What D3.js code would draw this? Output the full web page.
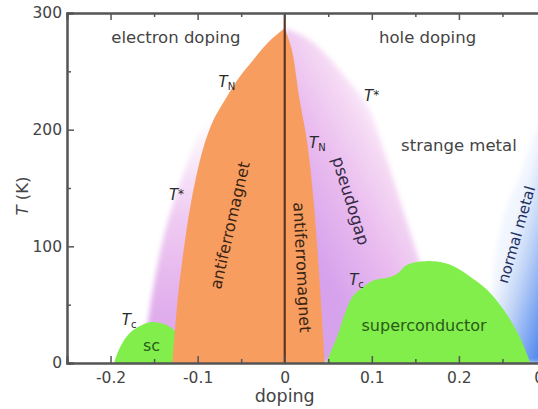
<!DOCTYPE html>
<html>
<head>
<meta charset="utf-8">
<script src="https://cdn.jsdelivr.net/npm/d3@7"></script>
<style>
  body { margin: 0; background: #fff; }
  svg { display: block; font-family: "DejaVu Sans", sans-serif; }
</style>
</head>
<body>
<script>
// phase boundaries, [doping, T in K]
var tnElectron = [[0, 287], [-0.016, 277], [-0.036, 260], [-0.054, 243], [-0.069, 225], [-0.082, 208], [-0.094, 183], [-0.107, 140], [-0.116, 97], [-0.123, 54], [-0.129, 0]];
var tnHole = [[0, 287], [0.008, 269], [0.017, 226], [0.026, 188], [0.033, 140], [0.04, 71], [0.046, 0]];
var tStarElectron = [[-0.09, 210], [-0.105, 185], [-0.12, 155], [-0.133, 125], [-0.143, 95], [-0.152, 60], [-0.158, 30]];
var tStarHole = [[0, 287], [0.022, 280], [0.044, 267], [0.07, 245], [0.094, 222], [0.115, 180], [0.132, 140], [0.145, 110], [0.158, 80]];
var tcElectron = [[-0.196, 0], [-0.19, 12], [-0.18, 24], [-0.168, 31], [-0.155, 35], [-0.142, 34], [-0.13, 30], [-0.12, 22], [-0.113, 10], [-0.11, 0]];
var tcHole = [[0.048, 0], [0.053, 10], [0.06, 22], [0.068, 40], [0.078, 57], [0.09, 65], [0.1, 70], [0.108, 72], [0.118, 73], [0.13, 77], [0.14, 84], [0.156, 87], [0.175, 87], [0.194, 83], [0.213, 74], [0.232, 63], [0.251, 46], [0.27, 22], [0.282, 0]];
var normalMetal = [[0.237, 60], [0.25, 123], [0.273, 166], [0.288, 198], [0.3, 215]];

var xTicks = [-0.2, -0.1, 0, 0.1, 0.2, 0.3];
var xMinor = [-0.15, -0.05, 0.05, 0.15, 0.25];
var yTicks = [0, 100, 200, 300];
var yMinor = [50, 150, 250];

var width = 538, height = 409;

var x = d3.scaleLinear().domain([-0.25, 0.3]).range([67, 546]);
var y = d3.scaleLinear().domain([0, 300]).range([363, 13]);

var svg = d3.select("body").append("svg")
    .attr("width", width)
    .attr("height", height);

var defs = svg.append("defs");

defs.append("clipPath").attr("id", "plot")
  .append("rect")
    .attr("x", x(-0.25)).attr("y", y(300))
    .attr("width", x(0.3) - x(-0.25)).attr("height", y(0) - y(300));

defs.append("filter").attr("id", "soft")
    .attr("x", "-20%").attr("y", "-20%").attr("width", "140%").attr("height", "140%")
  .append("feGaussianBlur").attr("stdDeviation", 2.5);

function gradient(id, x1, y1, x2, y2, stops) {
    var g = defs.append("linearGradient").attr("id", id)
        .attr("gradientUnits", "userSpaceOnUse")
        .attr("x1", x1).attr("y1", y1).attr("x2", x2).attr("y2", y2);
    stops.forEach(function(s){
        g.append("stop").attr("offset", s[0]).attr("stop-color", s[1]);
    });
}

gradient("pgHole", 300, 232, 415, 168, [[0, "#d6a2ec"], [0.45, "#e9bbef"], [0.8, "#f5d9f4"], [1, "#fdf4fc"]]);
gradient("pgElectron", 0, y(40), 0, y(210), [[0, "#e0acec"], [0.5, "#efcbf2"], [1, "#ffffff"]]);
gradient("nm", 493, 295, 552, 312, [[0, "#f2f6fe"], [0.35, "#c3d6f7"], [1, "#5087ee"]]);

var line = d3.line()
    .x(function(d) { return x(d[0]); })
    .y(function(d) { return y(d[1]); })
    .curve(d3.curveCatmullRom);

function pt(dop, t) { return "L" + x(dop) + "," + y(t); }

var plot = svg.append("g").attr("clip-path", "url(#plot)");

// pseudogap regions, soft edged
plot.append("path")
    .attr("d", line(tStarElectron) + pt(-0.158, 0) + pt(-0.05, 0) + pt(-0.05, 210) + "Z")
    .attr("fill", "url(#pgElectron)")
    .attr("filter", "url(#soft)");

plot.append("path")
    .attr("d", line(tStarHole) + pt(0.165, 0) + pt(0, 0) + "Z")
    .attr("fill", "url(#pgHole)")
    .attr("filter", "url(#soft)");

// normal metal
plot.append("path")
    .attr("d", line(normalMetal) + pt(0.33, 215) + pt(0.33, 0) + pt(0.237, 0) + "Z")
    .attr("fill", "url(#nm)")
    .attr("filter", "url(#soft)");

// electron-side sc sits behind the antiferromagnet
plot.append("path")
    .attr("d", line(tcElectron) + "Z")
    .attr("fill", "#82ee4c");

// antiferromagnet
plot.append("path")
    .attr("d", line(tnElectron) + pt(0, 0) + "Z")
    .attr("fill", "#f89d60");
plot.append("path")
    .attr("d", line(tnHole) + pt(0, 0) + "Z")
    .attr("fill", "#f89d60");

plot.append("path")
    .attr("d", line(tcHole) + "Z")
    .attr("fill", "#82ee4c");

plot.append("line")
    .attr("x1", x(0)).attr("x2", x(0))
    .attr("y1", y(300)).attr("y2", y(0))
    .attr("stroke", "#5e3420")
    .attr("stroke-width", 2.2);

// axes
function styleAxis(g) {
    g.select(".domain").attr("stroke", "#555").attr("stroke-width", 2);
    g.selectAll(".tick line").attr("stroke", "#555").attr("stroke-width", 1.5);
    g.selectAll(".tick text").attr("fill", "#444").attr("font-size", 15.5)
        .attr("font-family", "DejaVu Sans, sans-serif");
}

var fmtX = function(d) { return d === 0 ? "0" : d.toFixed(1); };
var fmtY = d3.format("d");

svg.append("g").attr("transform", "translate(0," + y(0) + ")")
    .call(d3.axisBottom(x).tickValues(xTicks).tickSize(-7).tickPadding(9).tickFormat(fmtX))
    .call(styleAxis);
svg.append("g").attr("transform", "translate(0," + y(0) + ")")
    .call(d3.axisBottom(x).tickValues(xMinor).tickSize(-4).tickFormat(""))
    .call(styleAxis);
svg.append("g").attr("transform", "translate(0," + y(300) + ")")
    .call(d3.axisTop(x).tickValues(xTicks).tickSize(-7).tickFormat(""))
    .call(styleAxis);
svg.append("g").attr("transform", "translate(0," + y(300) + ")")
    .call(d3.axisTop(x).tickValues(xMinor).tickSize(-4).tickFormat(""))
    .call(styleAxis);
svg.append("g").attr("transform", "translate(" + x(-0.25) + ",0)")
    .call(d3.axisLeft(y).tickValues(yTicks).tickSize(-7).tickPadding(5).tickFormat(fmtY))
    .call(styleAxis);
svg.append("g").attr("transform", "translate(" + x(-0.25) + ",0)")
    .call(d3.axisLeft(y).tickValues(yMinor).tickSize(-4).tickFormat(""))
    .call(styleAxis);
svg.append("g").attr("transform", "translate(" + x(0.3) + ",0)")
    .call(d3.axisRight(y).tickValues(yTicks).tickSize(-7).tickFormat(""))
    .call(styleAxis);
svg.append("g").attr("transform", "translate(" + x(0.3) + ",0)")
    .call(d3.axisRight(y).tickValues(yMinor).tickSize(-4).tickFormat(""))
    .call(styleAxis);

svg.append("text")
    .attr("x", x(0)).attr("y", 402)
    .attr("text-anchor", "middle")
    .attr("font-size", 17.5).attr("fill", "#444")
    .text("doping");

var yl = svg.append("text")
    .attr("transform", "translate(28," + 196 + ") rotate(-90)")
    .attr("text-anchor", "middle")
    .attr("font-size", 16.5).attr("fill", "#444");
yl.append("tspan").attr("font-style", "italic").text("T");
yl.append("tspan").text(" (K)");

// region labels
function label(txt, dop, t, angle, color, size) {
    svg.append("text")
        .attr("transform", "translate(" + x(dop) + "," + y(t) + ") rotate(" + angle + ")")
        .attr("text-anchor", "middle")
        .attr("dy", "0.35em")
        .attr("font-size", size || 16.5)
        .attr("fill", color)
        .text(txt);
}

label("electron doping", -0.125, 279, 0, "#444");
label("hole doping", 0.164, 279, 0, "#444");
label("strange metal", 0.2, 187, 0, "#444");
label("antiferromagnet", -0.063, 118, -77, "#3a2414", 16);
label("antiferromagnet", 0.02, 82, 87, "#3a2414", 16);
label("pseudogap", 0.076, 139, 73, "#352a44", 16.5);
label("normal metal", 0.266, 110, -74, "#1f2f5f", 15);
label("superconductor", 0.16, 32, 0, "#2a5a18", 16);
label("sc", -0.153, 15, 0, "#2a5a18", 16);

// T labels
function tLabel(dop, t, sub, star) {
    var tx = svg.append("text")
        .attr("x", x(dop)).attr("y", y(t))
        .attr("font-size", 15).attr("fill", "#2a2a2a");
    tx.append("tspan").attr("font-style", "italic").text("T");
    if (star) {
        tx.append("tspan").attr("font-size", 12).attr("dy", -2).text("*");
    } else {
        tx.append("tspan").attr("font-size", 10).attr("dy", 3).text(sub);
    }
}

tLabel(-0.076, 237, "N");
tLabel(0.028, 184, "N");
tLabel(-0.133, 140, null, true);
tLabel(0.091, 225, null, true);
tLabel(-0.187, 33, "c");
tLabel(0.074, 67, "c");
</script>
</body>
</html>
